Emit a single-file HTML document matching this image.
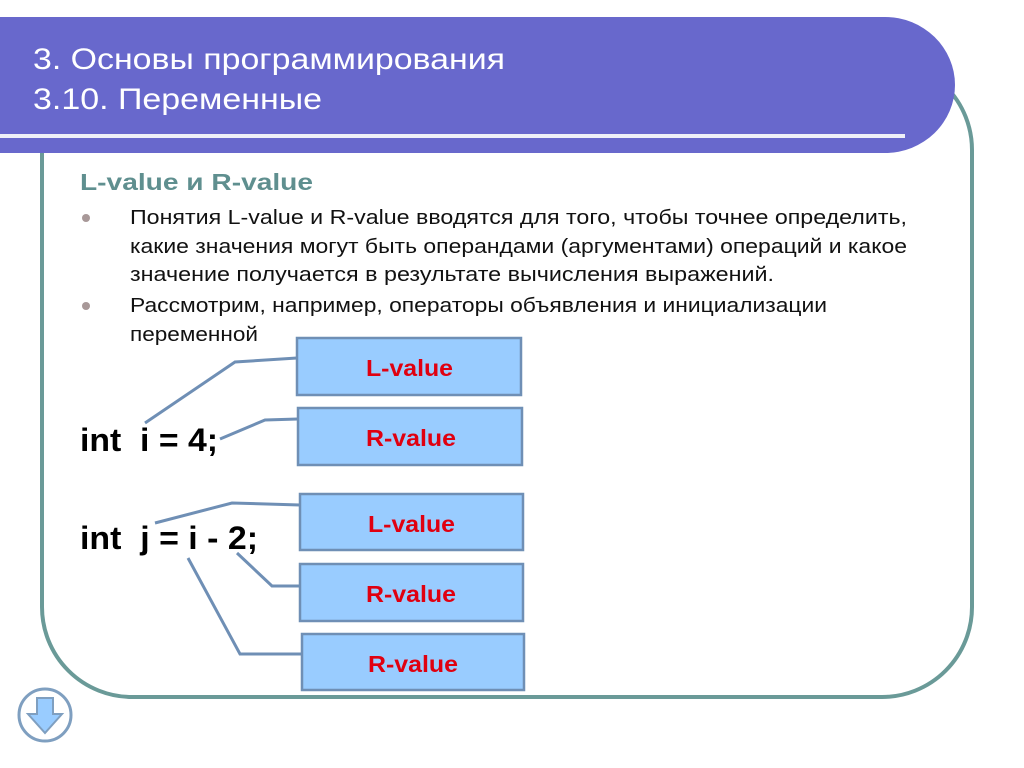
<!DOCTYPE html>
<html><head><meta charset="utf-8"><style>
body{margin:0;width:1024px;height:768px;overflow:hidden;background:#fff}
svg text{font-family:"Liberation Sans",Arial,sans-serif}
</style></head><body>
<svg width="1024" height="768" xmlns="http://www.w3.org/2000/svg" font-family="Liberation Sans, Arial, sans-serif" style="position:absolute;left:0;top:0">
<rect x="42" y="60" width="930" height="637" rx="90" ry="90" fill="none" stroke="#6a9a98" stroke-width="4"/>
<path d="M0,17 H885 A70,68 0 0 1 885,153 H0 Z" fill="#6868cc"/>
<rect x="0" y="134" width="905" height="4" fill="#eef0f8"/>
<text x="33" y="69" font-size="30" fill="#fff" textLength="472" lengthAdjust="spacingAndGlyphs">3. Основы программирования</text>
<text x="33" y="109" font-size="30" fill="#fff" textLength="289" lengthAdjust="spacingAndGlyphs">3.10. Переменные</text>
<text x="80" y="190" font-size="23" font-weight="bold" fill="#5f8f8f" textLength="233" lengthAdjust="spacingAndGlyphs">L-value и R-value</text>
<circle cx="86" cy="218" r="4" fill="#a89898"/>
<circle cx="86" cy="306" r="4" fill="#a89898"/>
<g font-size="20" fill="#111">
<text x="130" y="224" textLength="777" lengthAdjust="spacingAndGlyphs">Понятия L-value и R-value вводятся для того, чтобы точнее определить,</text>
<text x="130" y="253" textLength="777" lengthAdjust="spacingAndGlyphs">какие значения могут быть операндами (аргументами) операций и какое</text>
<text x="130" y="281" textLength="644" lengthAdjust="spacingAndGlyphs">значение получается в результате вычисления выражений.</text>
<text x="130" y="312" textLength="697" lengthAdjust="spacingAndGlyphs">Рассмотрим, например, операторы объявления и инициализации</text>
<text x="130" y="341" textLength="128" lengthAdjust="spacingAndGlyphs">переменной</text>
</g>
<g font-size="32" font-weight="bold" fill="#000">
<text x="80" y="451" xml:space="preserve" textLength="138" lengthAdjust="spacingAndGlyphs">int  i = 4;</text>
<text x="80" y="549" xml:space="preserve" textLength="178" lengthAdjust="spacingAndGlyphs">int  j = i - 2;</text>
</g>
<g fill="none" stroke="#6f8fb5" stroke-width="3">
<polyline points="145,423 235,362 297,358"/>
<polyline points="220,439 265,420 298,419"/>
<polyline points="155,523 232,503 300,505"/>
<polyline points="237,553 272,586 300,586"/>
<polyline points="188,558 240,654 302,654"/>
</g>
<g fill="#99ccff" stroke="#6f8fb5" stroke-width="2.5">
<rect x="297" y="338" width="224" height="57"/>
<rect x="298" y="408" width="224" height="57"/>
<rect x="300" y="494" width="223" height="56"/>
<rect x="300" y="564" width="223" height="57"/>
<rect x="302" y="634" width="222" height="56"/>
</g>
<g font-size="23" font-weight="bold" fill="#e00010">
<text x="366" y="376" textLength="87" lengthAdjust="spacingAndGlyphs">L-value</text>
<text x="366" y="446" textLength="90" lengthAdjust="spacingAndGlyphs">R-value</text>
<text x="368" y="532" textLength="87" lengthAdjust="spacingAndGlyphs">L-value</text>
<text x="366" y="602" textLength="90" lengthAdjust="spacingAndGlyphs">R-value</text>
<text x="368" y="672" textLength="90" lengthAdjust="spacingAndGlyphs">R-value</text>
</g>
<circle cx="45" cy="715" r="26" fill="#fff" stroke="#7f9fc0" stroke-width="3"/>
<path d="M37,698 H53 V714 H62 L45,733 L28,714 H37 Z" fill="#99ccff" stroke="#7f9fc0" stroke-width="2"/>
</svg>
</body></html>
